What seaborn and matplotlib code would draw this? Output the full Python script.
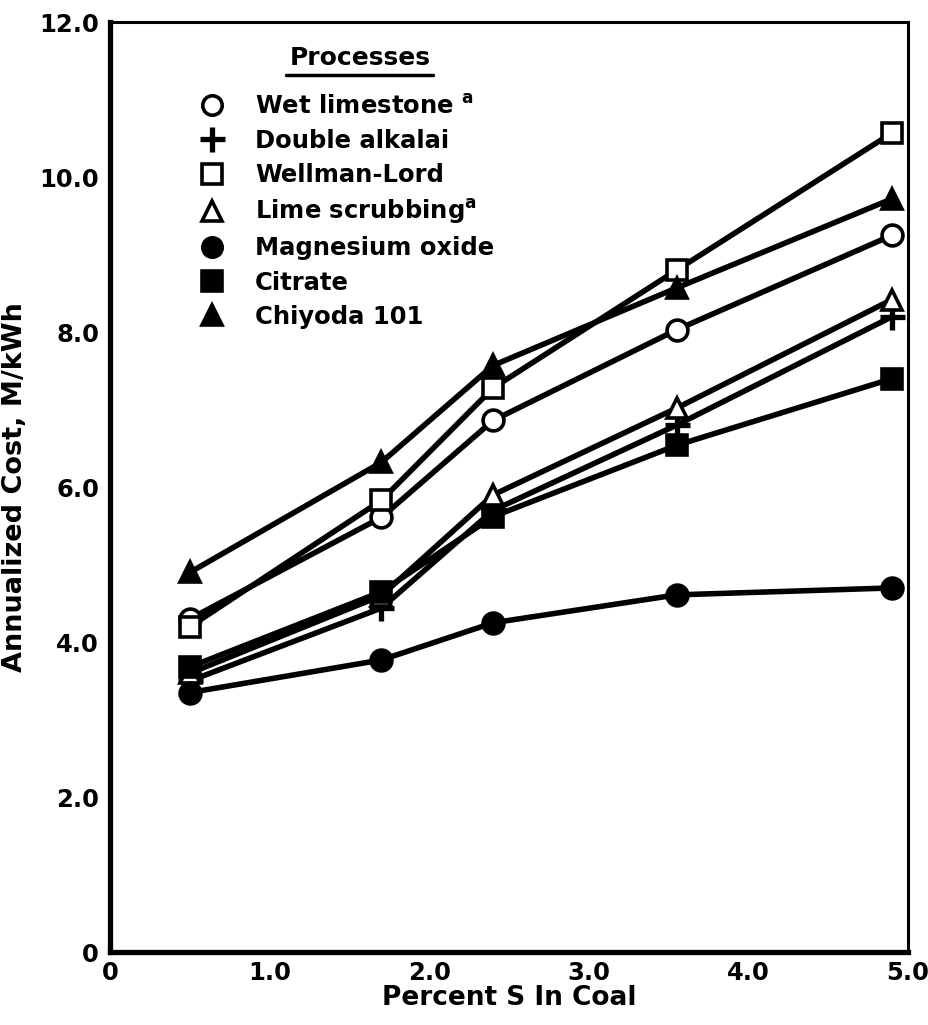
import matplotlib
matplotlib.use("Agg")
import matplotlib.pyplot as plt
import seaborn as sns
import pandas as pd
from matplotlib.lines import Line2D

# ---- data ----
sulfur = [0.5, 1.7, 2.4, 3.55, 4.9]
wet_limestone = [4.3, 5.61, 6.86, 8.03, 9.25]
double_alkalai = [3.5, 4.44, 5.7, 6.8, 8.2]
wellman_lord = [4.2, 5.83, 7.28, 8.8, 10.57]
lime_scrubbing = [3.6, 4.6, 5.9, 7.02, 8.42]
magnesium_oxide = [3.35, 3.77, 4.25, 4.61, 4.7]
citrate = [3.68, 4.65, 5.62, 6.54, 7.4]
chiyoda = [4.9, 6.32, 7.57, 8.57, 9.72]

process_names = ["Wet limestone", "Double alkalai", "Wellman-Lord", "Lime scrubbing",
                 "Magnesium oxide", "Citrate", "Chiyoda 101"]
legend_labels = ["Wet limestone $^{a}$", "Double alkalai", "Wellman-Lord", "Lime scrubbing$^{a}$",
                 "Magnesium oxide", "Citrate", "Chiyoda 101"]
legend_title = "Processes"
x_ticks = [0, 1, 2, 3, 4, 5]
x_tick_labels = ["0", "1.0", "2.0", "3.0", "4.0", "5.0"]
y_ticks = [0, 2, 4, 6, 8, 10, 12]
y_tick_labels = ["0", "2.0", "4.0", "6.0", "8.0", "10.0", "12.0"]

series = [wet_limestone, double_alkalai, wellman_lord, lime_scrubbing,
          magnesium_oxide, citrate, chiyoda]
rows = []
for name, vals in zip(process_names, series):
    for s, v in zip(sulfur, vals):
        rows.append({"process": name, "sulfur": s, "cost": v})
df = pd.DataFrame(rows)

# ---- styles ----
styles = {
    "Wet limestone": ("o", "white"),
    "Double alkalai": ("+", "black"),
    "Wellman-Lord": ("s", "white"),
    "Lime scrubbing": ("^", "white"),
    "Magnesium oxide": ("o", "black"),
    "Citrate": ("s", "black"),
    "Chiyoda 101": ("^", "black"),
}

sns.set_style("white")
plt.rcParams["font.family"] = ["DejaVu Sans"]
plt.rcParams["font.weight"] = "bold"
plt.rcParams["mathtext.default"] = "regular"
for k in ["text.color", "axes.labelcolor", "xtick.color", "ytick.color", "axes.edgecolor"]:
    plt.rcParams[k] = "black"

fig = plt.figure(figsize=(9.29, 10.25), dpi=100)
ax = fig.add_axes([0.1185, 0.071, 0.859, 0.9075])

for name in process_names:
    m, fc = styles[name]
    sub = df[df["process"] == name]
    mew = 3.8 if m == "+" else 2.6
    ms = 18 if m == "+" else (14 if m == "s" else 15)
    sns.lineplot(data=sub, x="sulfur", y="cost", ax=ax, color="black", lw=4.0,
                 marker=m, markersize=ms, markerfacecolor=fc,
                 markeredgecolor="black", markeredgewidth=mew, legend=False,
                 errorbar=None)

ax.set_xlim(0, 5.0)
ax.set_ylim(0, 12.0)
ax.set_xticks(x_ticks)
ax.set_xticklabels(x_tick_labels)
ax.set_yticks(y_ticks)
ax.set_yticklabels(y_tick_labels)
ax.tick_params(axis="both", direction="in", length=18, width=2.2, color="black",
               labelsize=17.5, labelcolor="black")
ax.tick_params(axis="y", pad=8)
ax.tick_params(axis="x", pad=6)
for lab in ax.get_xticklabels() + ax.get_yticklabels():
    lab.set_fontweight("bold")

for side, lw in [("left", 3.8), ("bottom", 3.8), ("top", 2.2), ("right", 2.2)]:
    ax.spines[side].set_visible(True)
    ax.spines[side].set_linewidth(lw)
    ax.spines[side].set_color("black")

ax.set_xlabel("Percent S In Coal", fontsize=19, fontweight="bold", labelpad=0)
ax.set_ylabel("Annualized Cost, M/kWh", fontsize=19.5, fontweight="bold", labelpad=8)

handles = []
for name in process_names:
    m, fc = styles[name]
    handles.append(Line2D([], [], linestyle="none", marker=m,
                          markersize=18 if m == "+" else 14,
                          markerfacecolor=fc, markeredgecolor="black",
                          markeredgewidth=3.8 if m == "+" else 2.6))
leg = ax.legend(handles, legend_labels, loc="upper left",
                bbox_to_anchor=(0.110, 0.922), frameon=False, fontsize=17.5,
                labelspacing=0.42, handlelength=1.2,
                handletextpad=1.15, borderaxespad=0, borderpad=0)
for t in leg.get_texts():
    t.set_fontweight("bold")
    t.set_color("black")

title = ax.text(0.313, 0.961, legend_title, transform=ax.transAxes, ha="center",
                va="center", fontsize=18, fontweight="bold", color="black")

# underline legend title
fig.canvas.draw()
bb = title.get_window_extent(fig.canvas.get_renderer())
inv = fig.transFigure.inverted()
(x0, y0), (x1, y1) = inv.transform([(bb.x0 - 3, bb.y0 - 5), (bb.x1 + 3, bb.y0 - 5)])
fig.add_artist(Line2D([x0, x1], [y0, y1], color="black", lw=2.5,
                      transform=fig.transFigure))

fig.savefig("out.png", dpi=100, facecolor="white")
